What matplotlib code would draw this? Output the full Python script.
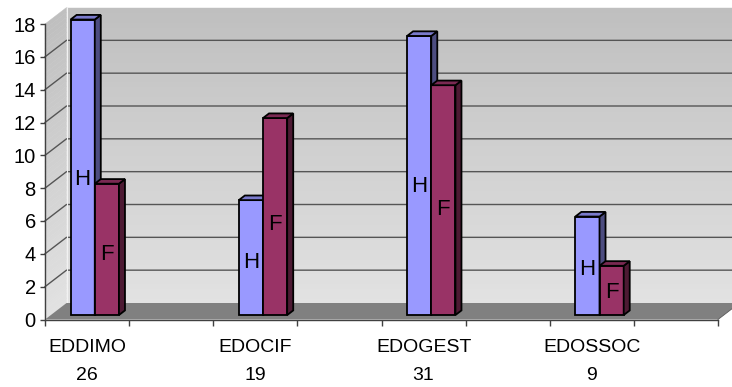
import numpy as np
import matplotlib
matplotlib.use("Agg")
import matplotlib.pyplot as plt
from matplotlib.patches import Polygon
from matplotlib.lines import Line2D
from matplotlib.transforms import IdentityTransform

# Dados do gráfico
categorias = ["EDDIMO", "EDOCIF", "EDOGEST", "EDOSSOC"]
totais = [26, 19, 31, 9]
homens = [18, 7, 17, 6]
mulheres = [8, 12, 14, 3]
series = ["H", "F"]
ticks_y = list(range(0, 20, 2))

# Cores (frente, lateral, topo) de cada série
cores = {
    "H": ("#9999FF", "#4D4D80", "#7A7ACC"),
    "F": ("#993366", "#4D1A33", "#7A2952"),
}

plt.rcParams["font.family"] = ["Liberation Sans", "DejaVu Sans"]

fig = plt.figure(figsize=(7.32, 3.87), dpi=100)
W, H = 732, 387
ax = fig.add_axes([45 / W, (H - 319.5) / H, (718 - 45) / W, (319.5 - 24) / H])
n_slots = 2 * len(categorias)
ax.set_xlim(0, n_slots)
ax.set_ylim(0, 18)
ax.patch.set_visible(False)

# profundidade do "3D" em pixels
prof = np.array([21.5, 16.5])


def proj(x, y, d):
    px, py = ax.transData.transform((x, y))
    return (px + d * prof[0], py + d * prof[1])


def poly(pts, cor, z, borda="none", lw=0):
    p = Polygon(pts, closed=True, facecolor=cor, edgecolor=borda, linewidth=lw,
                transform=IdentityTransform(), clip_on=False, zorder=z,
                joinstyle="miter")
    ax.add_patch(p)


def linha(pts, cor, lw, z):
    pts = np.array(pts)
    ax.add_line(Line2D(pts[:, 0], pts[:, 1], color=cor, linewidth=lw,
                       transform=IdentityTransform(), clip_on=False, zorder=z))


# paredes com degradê (cinza mais escuro em cima)
topo_c = np.array([0xBF, 0xBF, 0xBF]) / 255
base_c = np.array([0xE2, 0xE2, 0xE2]) / 255
n_faixas = 60
ymax = ticks_y[-1]
for k in range(n_faixas):
    v0 = ymax * k / n_faixas
    v1 = ymax * (k + 1) / n_faixas
    t = (k + 0.5) / n_faixas
    cor = base_c + (topo_c - base_c) * t
    # parede do fundo
    poly([proj(0, v0, 1), proj(n_slots, v0, 1), proj(n_slots, v1, 1), proj(0, v1, 1)],
         cor, 0, borda=cor, lw=0.3)
    # parede lateral
    poly([proj(0, v0, 0), proj(0, v0, 1), proj(0, v1, 1), proj(0, v1, 0)],
         cor, 0, borda=cor, lw=0.3)

# linhas de grade
for v in ticks_y[1:-1]:
    linha([proj(0, v, 0), proj(0, v, 1), proj(n_slots, v, 1)], "#555555", 1.0, 0.5)
linha([proj(0, 0, 1), proj(0, ymax, 1)], "#F2F2F2", 0.8, 0.5)

# piso
poly([proj(0, 0, 0), proj(n_slots, 0, 0), proj(n_slots, 0, 1), proj(0, 0, 1)],
     "#808080", 0.6)
linha([proj(n_slots, 0, 0), proj(n_slots, 0, 1)], "#5A5A5A", 0.6, 0.7)

# barras 3D
d0, d1 = 0.27, 0.55
inicio, larg = 0.235, 0.2875
for i, valores in enumerate(zip(homens, mulheres)):
    base = 2 * i
    for j, (s, v) in enumerate(zip(series, valores)):
        x0 = base + inicio + j * larg
        x1 = x0 + larg
        frente, lado, topo = cores[s]
        z = 2 + 0.1 * j
        poly([proj(x0, 0, d0), proj(x1, 0, d0), proj(x1, v, d0), proj(x0, v, d0)],
             frente, z, "black", 1.3)
        poly([proj(x1, 0, d0), proj(x1, 0, d1), proj(x1, v, d1), proj(x1, v, d0)],
             lado, z, "black", 1.3)
        poly([proj(x0, v, d0), proj(x1, v, d0), proj(x1, v, d1), proj(x0, v, d1)],
             topo, z, "black", 1.3)
        tx, ty = proj((x0 + x1) / 2, v * 0.46, d0)
        ax.text(tx, ty, s, transform=IdentityTransform(), ha="center", va="center",
                fontsize=16, color="black", zorder=5)

# eixos frontais
for lado_eixo in ["top", "right"]:
    ax.spines[lado_eixo].set_visible(False)
for lado_eixo in ["left", "bottom"]:
    ax.spines[lado_eixo].set_color("#404040")
    ax.spines[lado_eixo].set_linewidth(1.0)
    ax.spines[lado_eixo].set_zorder(3)

ax.set_yticks(ticks_y)
ax.tick_params(axis="y", direction="out", length=3.6, width=1.0, color="#404040",
               pad=3, labelsize=14.5)
ax.set_xticks(range(n_slots + 1))
ax.set_xticklabels([])
ax.set_xticks([2 * i + 0.5 for i in range(len(categorias))], minor=True)
ax.set_xticklabels([f"{c}\n{t}" for c, t in zip(categorias, totais)], minor=True,
                   fontsize=14, linespacing=1.85)
ax.tick_params(axis="x", which="minor", length=0, pad=14)
ax.tick_params(axis="x", which="major", direction="out", length=4.3, width=1.0,
               color="#404040")

fig.savefig("out.png", dpi=100)
